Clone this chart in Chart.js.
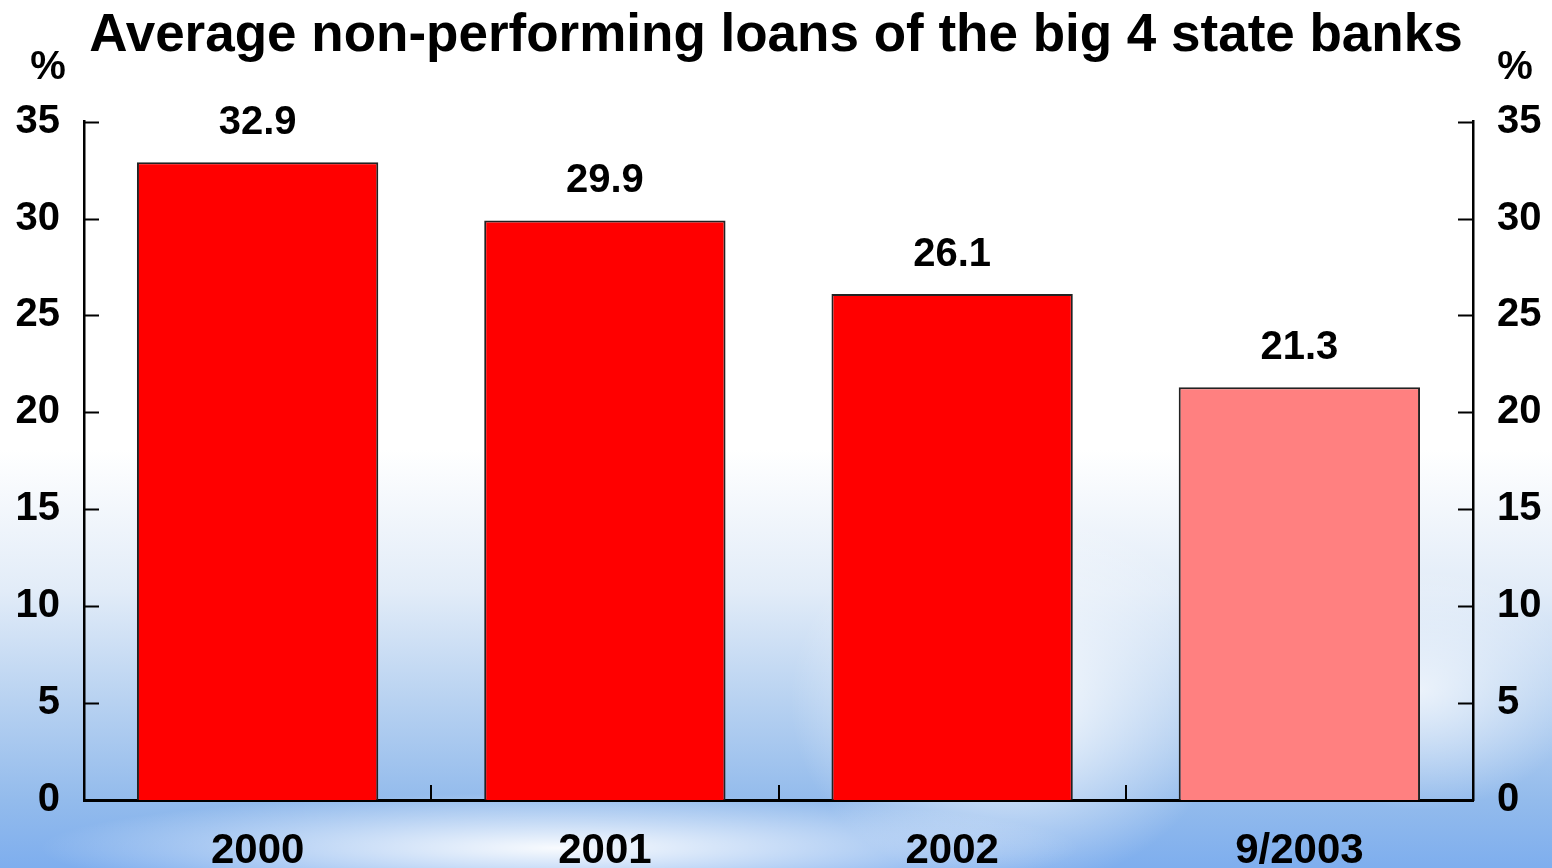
<!DOCTYPE html>
<html>
<head>
<meta charset="utf-8">
<script src="https://cdn.jsdelivr.net/npm/chart.js@4/dist/chart.umd.min.js"></script>
<style>
  html, body { margin: 0; padding: 0; }
  body {
    width: 1552px;
    height: 868px;
    overflow: hidden;
    background:
      radial-gradient(ellipse 520px 55px at 560px 848px, rgba(255,255,255,0.95), rgba(255,255,255,0)),
      radial-gradient(ellipse 220px 190px at 1010px 700px, rgba(255,255,255,0.95), rgba(255,255,255,0)),
      radial-gradient(ellipse 160px 120px at 1420px 690px, rgba(255,255,255,0.7), rgba(255,255,255,0)),
      linear-gradient(to bottom, #ffffff 0px, #ffffff 450px, #e2ecf8 590px, #b8d2f1 700px, #93bbec 800px, #7eaeee 868px);
  }
  #wrap { position: relative; width: 1552px; height: 868px; }
</style>
</head>
<body>
<div id="wrap"><canvas id="npl"></canvas></div>
<script>
// Average NPL ratio of the big four state banks, in percent
const periods = ['2000', '2001', '2002', '9/2003'];
const nplRatio = [32.9, 29.9, 26.1, 21.3];
const barColors = ['#ff0000', '#ff0000', '#ff0000', '#ff8080'];
const yTicks = [0, 5, 10, 15, 20, 25, 30, 35];

const FONT = 'Liberation Sans, Arial, sans-serif';
const TICK_LEN = 15;

// inward tick marks, "%" unit labels and value labels over the bars
const decorations = {
  id: 'decorations',
  afterDatasetsDraw(chart) {
    const { ctx, chartArea: a, scales } = chart;
    ctx.save();
    ctx.strokeStyle = '#000';
    ctx.lineWidth = 2;
    ctx.beginPath();
    yTicks.forEach((v) => {
      const y = Math.round(scales.y.getPixelForValue(v)) + 0.5;
      if (v === 0) return;
      ctx.moveTo(a.left, y);
      ctx.lineTo(a.left + TICK_LEN, y);
      ctx.moveTo(a.right, y);
      ctx.lineTo(a.right - TICK_LEN, y);
    });
    for (let i = 1; i < periods.length; i++) {
      const x = Math.round((scales.x.getPixelForValue(i - 1) + scales.x.getPixelForValue(i)) / 2);
      ctx.moveTo(x, a.bottom);
      ctx.lineTo(x, a.bottom - TICK_LEN);
    }
    ctx.stroke();

    ctx.fillStyle = '#000';
    ctx.font = 'bold 40px ' + FONT;
    ctx.textAlign = 'center';
    ctx.textBaseline = 'middle';
    ctx.fillText('%', 48, 68);
    ctx.fillText('%', 1515, 68);

    const meta = chart.getDatasetMeta(0);
    meta.data.forEach((bar, i) => {
      ctx.fillText(nplRatio[i].toFixed(1), bar.x, bar.y - 39);
    });
    ctx.restore();
  },
};

new Chart(document.getElementById('npl'), {
  type: 'bar',
  data: {
    labels: periods,
    datasets: [{
      data: nplRatio,
      backgroundColor: barColors,
      borderColor: '#222',
      borderWidth: 2,
      categoryPercentage: 0.695,
      barPercentage: 1,
    }],
  },
  options: {
    responsive: true,
    maintainAspectRatio: false,
    animation: false,
    layout: { padding: 0 },
    plugins: {
      legend: { display: false },
      tooltip: { enabled: false },
      title: {
        display: true,
        text: 'Average non-performing loans of the big 4 state banks',
        color: '#000',
        font: { family: FONT, size: 53, weight: 'bold' },
        padding: { top: 5, bottom: 53 },
      },
    },
    scales: {
      x: {
        grid: { display: false, drawTicks: false },
        border: { display: true, color: '#000', width: 3 },
        ticks: { color: '#000', padding: 26, font: { family: FONT, size: 42, weight: 'bold' } },
        afterFit: (s) => { s.height = 68; },
      },
      y: {
        position: 'left',
        min: 0,
        max: 35,
        grid: { display: false, drawTicks: false },
        border: { display: true, color: '#000', width: 2.5 },
        ticks: { stepSize: 5, color: '#000', padding: 24, font: { family: FONT, size: 40, weight: 'bold' } },
        afterFit: (s) => { s.width = 84; },
      },
      y2: {
        position: 'right',
        min: 0,
        max: 35,
        grid: { display: false, drawTicks: false },
        border: { display: true, color: '#000', width: 2.5 },
        ticks: { stepSize: 5, color: '#000', padding: 24, font: { family: FONT, size: 40, weight: 'bold' } },
        afterFit: (s) => { s.width = 79; },
      },
    },
  },
  plugins: [decorations],
});
</script>
</body>
</html>
